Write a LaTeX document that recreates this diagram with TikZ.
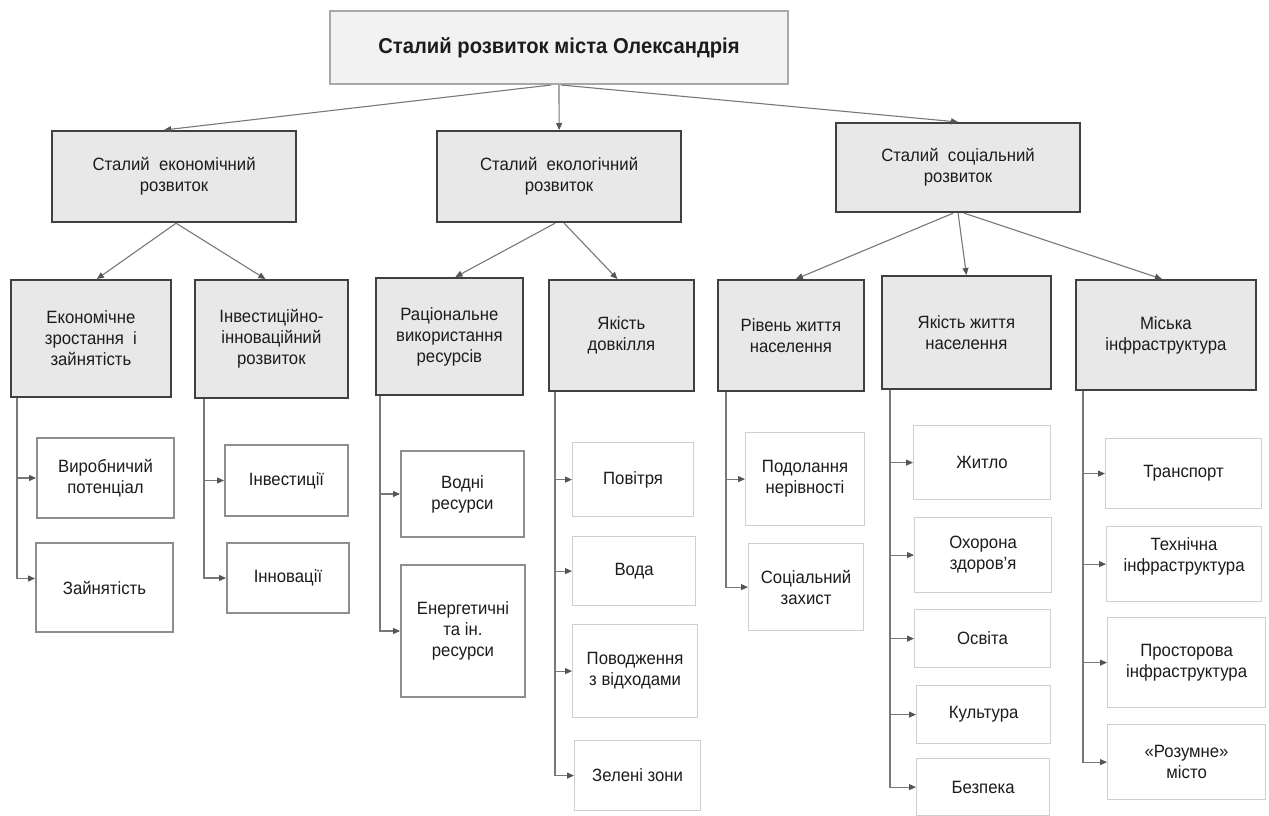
\documentclass[tikz,border=0pt]{standalone}
\usepackage{fontspec}
\setmainfont{Liberation Sans}[FakeStretch=0.94]
\usetikzlibrary{arrows.meta}
\definecolor{topfill}{HTML}{F2F2F2}
\definecolor{topdraw}{HTML}{A8A8A8}
\definecolor{midfill}{HTML}{E8E8E8}
\definecolor{middraw}{HTML}{404040}
\definecolor{leafdrawA}{HTML}{8E8E8E}
\definecolor{leafdrawB}{HTML}{CFCFCF}
\definecolor{connc}{HTML}{787878}
\definecolor{tipc}{HTML}{555555}
\definecolor{txt}{HTML}{1C1C1C}
\begin{document}
\begin{tikzpicture}[x=1pt,y=-1pt,
  every node/.style={font=\fontsize{17.8}{21}\selectfont, text=txt, align=center, inner sep=0pt},
  box/.style={rectangle, anchor=north west},
  topbox/.style={box, fill=topfill, draw=topdraw, line width=2pt, font=\bfseries\fontsize{21.5}{25}\selectfont},
  lone/.style={box, fill=midfill, draw=middraw, line width=2.2pt},
  ltwo/.style={box, fill=midfill, draw=middraw, line width=1.8pt},
  leafa/.style={box, fill=white, draw=leafdrawA, line width=2pt},
  leafb/.style={box, fill=white, draw=leafdrawB, line width=1.2pt},
  conn/.style={draw=connc, line width=1.1pt, -{Triangle[length=7pt,width=6pt,color=tipc]}}
]
\useasboundingbox[fill=white] (0,0) rectangle (1269,816);

% top
\node[topbox, minimum width=458, minimum height=73] (top) at (329,10) {Сталий розвиток міста Олександрія};

% level 1
\node[lone, minimum width=244, minimum height=91] (eco) at (51,130) {Сталий~ економічний\\розвиток};
\node[lone, minimum width=244, minimum height=91] (ecol) at (436,130) {Сталий~ екологічний\\розвиток};
\node[lone, minimum width=244, minimum height=89] (soc) at (835,122) {Сталий~ соціальний\\розвиток};

% level 2
\node[ltwo, minimum width=160, minimum height=117] (b1) at (10,279) {Економічне\\зростання~ і\\зайнятість};
\node[ltwo, minimum width=153, minimum height=118] (b2) at (194,279) {Інвестиційно-\\інноваційний\\розвиток};
\node[ltwo, minimum width=147, minimum height=117] (b3) at (375,277) {Раціональне\\використання\\ресурсів};
\node[ltwo, minimum width=145, minimum height=111] (b4) at (548,279) {Якість\\довкілля};
\node[ltwo, minimum width=146, minimum height=111] (b5) at (717,279) {Рівень життя\\населення};
\node[ltwo, minimum width=169, minimum height=113] (b6) at (881,275) {Якість життя\\населення};
\node[ltwo, minimum width=180, minimum height=110] (b7) at (1075,279) {Міська\\інфраструктура};

% level 3
\node[leafa, minimum width=137, minimum height=80] (c11) at (36,437) {Виробничий\\потенціал};
\node[leafa, minimum width=137, minimum height=89] (c12) at (35,542) {Зайнятість};
\node[leafa, minimum width=123, minimum height=71] (c21) at (224,444) {Інвестиції};
\node[leafa, minimum width=122, minimum height=70] (c22) at (226,542) {Інновації};
\node[leafa, minimum width=123, minimum height=86] (c31) at (400,450) {Водні\\ресурси};
\node[leafa, minimum width=124, minimum height=132] (c32) at (400,564) {Енергетичні\\та ін.\\ресурси};

\node[leafb, minimum width=121, minimum height=74] (c41) at (572,442) {Повітря};
\node[leafb, minimum width=123, minimum height=69] (c42) at (572,536) {Вода};
\node[leafb, minimum width=125, minimum height=93] (c43) at (572,624) {Поводження\\з відходами};
\node[leafb, minimum width=126, minimum height=70] (c44) at (574,740) {Зелені зони};

\node[leafb, minimum width=119, minimum height=93] (c51) at (745,432) {Подолання\\нерівності};
\node[leafb, minimum width=115, minimum height=87] (c52) at (748,543) {Соціальний\\захист};

\node[leafb, minimum width=137, minimum height=74] (c61) at (913,425) {Житло};
\node[leafb, minimum width=137, minimum height=75] (c62) at (914,517) {Охорона\\здоров'я};
\node[leafb, minimum width=136, minimum height=58] (c63) at (914,609) {Освіта};
\node[leafb, minimum width=134, minimum height=58] (c64) at (916,685) {Культура};
\node[leafb, minimum width=133, minimum height=57] (c65) at (916,758) {Безпека};

\node[leafb, minimum width=156, minimum height=70] (c71) at (1105,438) {Транспорт};
\node[leafb, minimum width=155, minimum height=75] (c72) at (1106,526) {Технічна\\інфраструктура\\[-2pt]};
\node[leafb, minimum width=158, minimum height=90] (c73) at (1107,617) {Просторова\\інфраструктура};
\node[leafb, minimum width=158, minimum height=75] (c74) at (1107,724) {«Розумне»\\місто};

% connectors top -> level 1
\draw[conn] ([xshift=-8pt]top.south) -- ([xshift=-10pt]eco.north);
\draw[conn] (top.south) -- (ecol.north);
\draw[conn] ([xshift=2pt]top.south) -- (soc.north);

% level 1 -> level 2
\draw[conn] ([xshift=2pt]eco.south) -- ([xshift=6pt]b1.north);
\draw[conn] ([xshift=2pt]eco.south) -- ([xshift=-6pt]b2.north);
\draw[conn] ([xshift=-4pt]ecol.south) -- ([xshift=6pt]b3.north);
\draw[conn] ([xshift=5pt]ecol.south) -- ([xshift=-4pt]b4.north);
\draw[conn] ([xshift=-5pt]soc.south) -- ([xshift=5pt]b5.north);
\draw[conn] (soc.south) -- (b6.north);
\draw[conn] ([xshift=6pt]soc.south) -- ([xshift=-4pt]b7.north);

% level 2 -> level 3
\draw[conn] ([xshift=7pt]b1.south west) |- (c11.west);
\draw[conn] ([xshift=7pt]b1.south west) |- ([yshift=9pt]c12.west);
\draw[conn] ([xshift=10pt]b2.south west) |- (c21.west);
\draw[conn] ([xshift=10pt]b2.south west) |- (c22.west);
\draw[conn] ([xshift=5pt]b3.south west) |- (c31.west);
\draw[conn] ([xshift=5pt]b3.south west) |- (c32.west);
\draw[conn] ([xshift=7pt]b4.south west) |- (c41.west);
\draw[conn] ([xshift=7pt]b4.south west) |- (c42.west);
\draw[conn] ([xshift=7pt]b4.south west) |- (c43.west);
\draw[conn] ([xshift=7pt]b4.south west) |- (c44.west);
\draw[conn] ([xshift=9pt]b5.south west) |- (c51.west);
\draw[conn] ([xshift=9pt]b5.south west) |- (c52.west);
\draw[conn] ([xshift=9pt]b6.south west) |- (c61.west);
\draw[conn] ([xshift=9pt]b6.south west) |- (c62.west);
\draw[conn] ([xshift=9pt]b6.south west) |- (c63.west);
\draw[conn] ([xshift=9pt]b6.south west) |- (c64.west);
\draw[conn] ([xshift=9pt]b6.south west) |- (c65.west);
\draw[conn] ([xshift=8pt]b7.south west) |- (c71.west);
\draw[conn] ([xshift=8pt]b7.south west) |- (c72.west);
\draw[conn] ([xshift=8pt]b7.south west) |- (c73.west);
\draw[conn] ([xshift=8pt]b7.south west) |- (c74.west);
\end{tikzpicture}
\end{document}
